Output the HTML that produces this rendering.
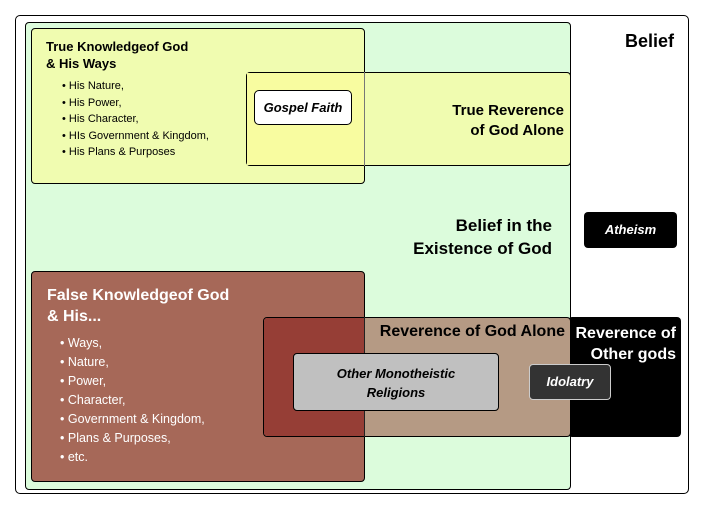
<!DOCTYPE html>
<html><head><meta charset="utf-8"><style>
body{margin:0;width:703px;height:509px;background:#fff;position:relative;overflow:hidden;font-family:"Liberation Sans",Arial,sans-serif;}
div{position:absolute;box-sizing:border-box;}
.b{border:1px solid #000;border-radius:4px;}
.t{font-weight:bold;color:#000;}
ul{margin:0;padding:0;list-style:none;}
li:before{content:"• ";}
</style></head><body>
<div class="b" style="left:15px;top:15px;width:674px;height:479px;background:#fff;border-radius:5px"></div>
<div class="b" style="left:25px;top:22px;width:546px;height:468px;background:#dcfcdc"></div>
<div class="b" style="left:31px;top:28px;width:334px;height:156px;background:#f0fcb0"></div>
<div class="b" style="left:246px;top:72px;width:325px;height:94px;background:#f0fcb0"></div>
<div style="left:247px;top:73px;width:117px;height:92px;background:#f8fca0"></div>
<div style="left:364px;top:72px;width:1px;height:94px;background:#777"></div>
<div class="t" style="left:46px;top:38px;font-size:13px;line-height:17px">True Knowledgeof God<br>&amp; His Ways</div>
<ul style="position:absolute;left:62px;top:78px;font-size:11px;line-height:16.5px">
<li>His Nature,</li><li>His Power,</li><li>His Character,</li><li>HIs Government &amp; Kingdom,</li><li>His Plans &amp; Purposes</li></ul>
<div class="b" style="left:254px;top:90px;width:98px;height:35px;background:#fff;border-radius:5px;font-weight:bold;font-style:italic;font-size:13px;text-align:center;line-height:33px">Gospel Faith</div>
<div class="t" style="left:400px;top:101px;width:164px;text-align:right;font-size:15px;line-height:20px">True Reverence<br>of God Alone</div>
<div class="t" style="left:600px;top:31px;width:74px;text-align:right;font-size:18px">Belief</div>
<div class="t" style="left:380px;top:214px;width:172px;text-align:right;font-size:17px;line-height:23px">Belief in the<br>Existence of God</div>
<div style="left:584px;top:212px;width:93px;height:36px;background:#000;border-radius:4px;color:#fff;font-weight:bold;font-style:italic;font-size:13px;text-align:center;line-height:36px">Atheism</div>
<div class="b" style="left:31px;top:271px;width:334px;height:211px;background:#a66858"></div>
<div class="t" style="left:47px;top:285px;color:#fff;font-size:16px;line-height:21px">False Knowledgeof God<br>&amp; His...</div>
<ul style="position:absolute;left:60px;top:334px;font-size:12.5px;line-height:19px;color:#fff">
<li>Ways,</li><li>Nature,</li><li>Power,</li><li>Character,</li><li>Government &amp; Kingdom,</li><li>Plans &amp; Purposes,</li><li>etc.</li></ul>
<div style="left:568px;top:317px;width:113px;height:120px;background:#000;border-radius:4px"></div>
<div class="b" style="left:263px;top:317px;width:308px;height:120px;background:#b59a84"></div>
<div style="left:264px;top:318px;width:100px;height:118px;background:#963e36;border-radius:3px 0 0 3px"></div>
<div style="left:364px;top:317px;width:1px;height:120px;background:#222"></div>
<div class="t" style="left:360px;top:323px;width:205px;text-align:right;font-size:16px">Reverence of God Alone</div>
<div class="t" style="left:568px;top:323px;width:108px;text-align:right;color:#fff;font-size:16px;line-height:21px">Reverence of<br>Other gods</div>
<div class="b" style="left:293px;top:353px;width:206px;height:58px;background:#c0c0c0;font-weight:bold;font-style:italic;font-size:13px;text-align:center;line-height:19px;padding-top:10px">Other Monotheistic<br>Religions</div>
<div style="left:529px;top:364px;width:82px;height:36px;background:#333;border:1px solid #ccc;border-radius:4px;color:#fff;font-weight:bold;font-style:italic;font-size:13px;text-align:center;line-height:34px">Idolatry</div>
</body></html>
